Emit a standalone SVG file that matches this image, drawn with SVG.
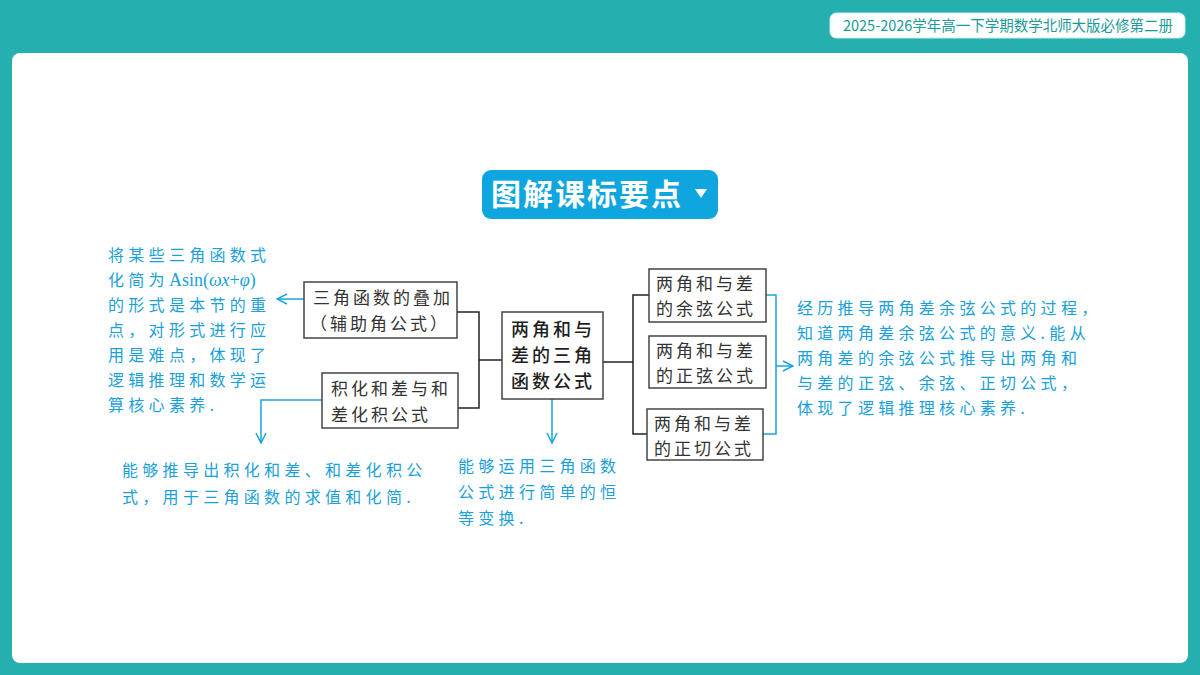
<svg xmlns="http://www.w3.org/2000/svg" width="1200" height="675" viewBox="0 0 1200 675">
<defs>
<style>
.box{fill:#fff;stroke:#444;stroke-width:1.5}
.bt{font-family:"Noto Sans CJK SC","Noto Sans",sans-serif;font-size:17px;fill:#333;letter-spacing:3px}
.ct{font-family:"Noto Sans CJK SC","Noto Sans",sans-serif;font-size:18px;font-weight:500;fill:#1f1f1f;letter-spacing:3px}
.hw{font-family:"Noto Sans CJK SC","Noto Sans",sans-serif;font-size:16px;font-weight:400;fill:#1a9fd9;letter-spacing:4.3px}
.blk{fill:none;stroke:#222;stroke-width:1.5}
.blu{fill:none;stroke:#1aa3dd;stroke-width:1.5}
</style>
<marker id="ah" viewBox="0 0 12 12" refX="11" refY="6" markerWidth="12" markerHeight="12" markerUnits="userSpaceOnUse" orient="auto">
<path d="M1,1 L11,6 L1,11" fill="none" stroke="#1aa3dd" stroke-width="1.5"/>
</marker>
</defs>
<rect x="0" y="0" width="1200" height="675" fill="#25afae"/>
<rect x="12" y="53" width="1176" height="610" rx="8" fill="#fff"/>
<g id="header">
<rect x="830" y="13" width="355" height="25" rx="6" fill="#fff" stroke="#c8ecec" stroke-width="1"/>
<text x="843" y="31" font-family="Noto Sans CJK SC,Liberation Sans,sans-serif" font-size="15" fill="#1a9a98" textLength="330" lengthAdjust="spacingAndGlyphs">2025-2026学年高一下学期数学北师大版必修第二册</text>
</g>
<g id="title">
<rect x="482" y="170" width="236" height="49" rx="9" fill="#0fa6e0"/>
<text x="491" y="205" font-family="Noto Sans CJK SC,sans-serif" font-size="30" font-weight="700" fill="#fff" letter-spacing="2">图解课标要点</text>
<path d="M695,189 L707,189 L701,198 Z" fill="#fff"/>
</g>
<g id="connectors">
<polyline class="blk" points="457,312 479,312 479,408 458,408"/>
<line class="blk" x1="479" y1="360" x2="502" y2="360"/>
<line class="blk" x1="603" y1="362" x2="633" y2="362"/>
<polyline class="blk" points="649,295 633,295 633,434 647,434"/>
<polyline class="blu" points="766,295 776,295 776,434 763,434"/>
<line class="blu" x1="776" y1="366" x2="793" y2="366" marker-end="url(#ah)"/>
<line class="blu" x1="304" y1="299" x2="277" y2="299" marker-end="url(#ah)"/>
<polyline class="blu" points="322,400 261,400 261,443" marker-end="url(#ah)"/>
<line class="blu" x1="552" y1="399" x2="552" y2="443" marker-end="url(#ah)"/>
</g>
<g id="node-a">
<rect class="box" x="304" y="282" width="153" height="56"/>
<text class="bt" x="313" y="304">三角函数的叠加</text>
<text class="bt" x="310" y="330">（辅助角公式）</text>
</g>
<g id="node-b">
<rect class="box" x="322" y="373" width="136" height="55"/>
<text class="bt" x="331" y="395">积化和差与和</text>
<text class="bt" x="331" y="421">差化积公式</text>
</g>
<g id="node-center">
<rect class="box" x="502" y="312" width="101" height="87"/>
<text class="ct" x="511" y="336">两角和与</text>
<text class="ct" x="511" y="362">差的三角</text>
<text class="ct" x="511" y="388">函数公式</text>
</g>
<g id="node-cos">
<rect class="box" x="649" y="269" width="117" height="53"/>
<text class="bt" x="656" y="290">两角和与差</text>
<text class="bt" x="656" y="315">的余弦公式</text>
</g>
<g id="node-sin">
<rect class="box" x="649" y="336" width="117" height="52"/>
<text class="bt" x="656" y="357">两角和与差</text>
<text class="bt" x="656" y="382">的正弦公式</text>
</g>
<g id="node-tan">
<rect class="box" x="647" y="409" width="116" height="51"/>
<text class="bt" x="654" y="430">两角和与差</text>
<text class="bt" x="654" y="455">的正切公式</text>
</g>
<g id="note-left">
<text class="hw" x="108" y="261">将某些三角函数式</text>
<text class="hw" x="108" y="286">化简为<tspan font-family="Liberation Serif,serif" font-size="18" letter-spacing="0">Asin(<tspan font-style="italic">ωx</tspan>+<tspan font-style="italic">φ</tspan>)</tspan></text>
<text class="hw" x="108" y="311">的形式是本节的重</text>
<text class="hw" x="108" y="336">点，对形式进行应</text>
<text class="hw" x="108" y="361">用是难点，体现了</text>
<text class="hw" x="108" y="386">逻辑推理和数学运</text>
<text class="hw" x="108" y="411">算核心素养.</text>
</g>
<g id="note-right">
<text class="hw" x="797" y="314">经历推导两角差余弦公式的过程，</text>
<text class="hw" x="797" y="339">知道两角差余弦公式的意义.能从</text>
<text class="hw" x="797" y="364">两角差的余弦公式推导出两角和</text>
<text class="hw" x="797" y="389">与差的正弦、余弦、正切公式，</text>
<text class="hw" x="797" y="414">体现了逻辑推理核心素养.</text>
</g>
<g id="note-bottom-left">
<text class="hw" x="122" y="476">能够推导出积化和差、和差化积公</text>
<text class="hw" x="122" y="503">式，用于三角函数的求值和化简.</text>
</g>
<g id="note-bottom-center">
<text class="hw" x="458" y="472">能够运用三角函数</text>
<text class="hw" x="458" y="498">公式进行简单的恒</text>
<text class="hw" x="458" y="524">等变换.</text>
</g>
</svg>
